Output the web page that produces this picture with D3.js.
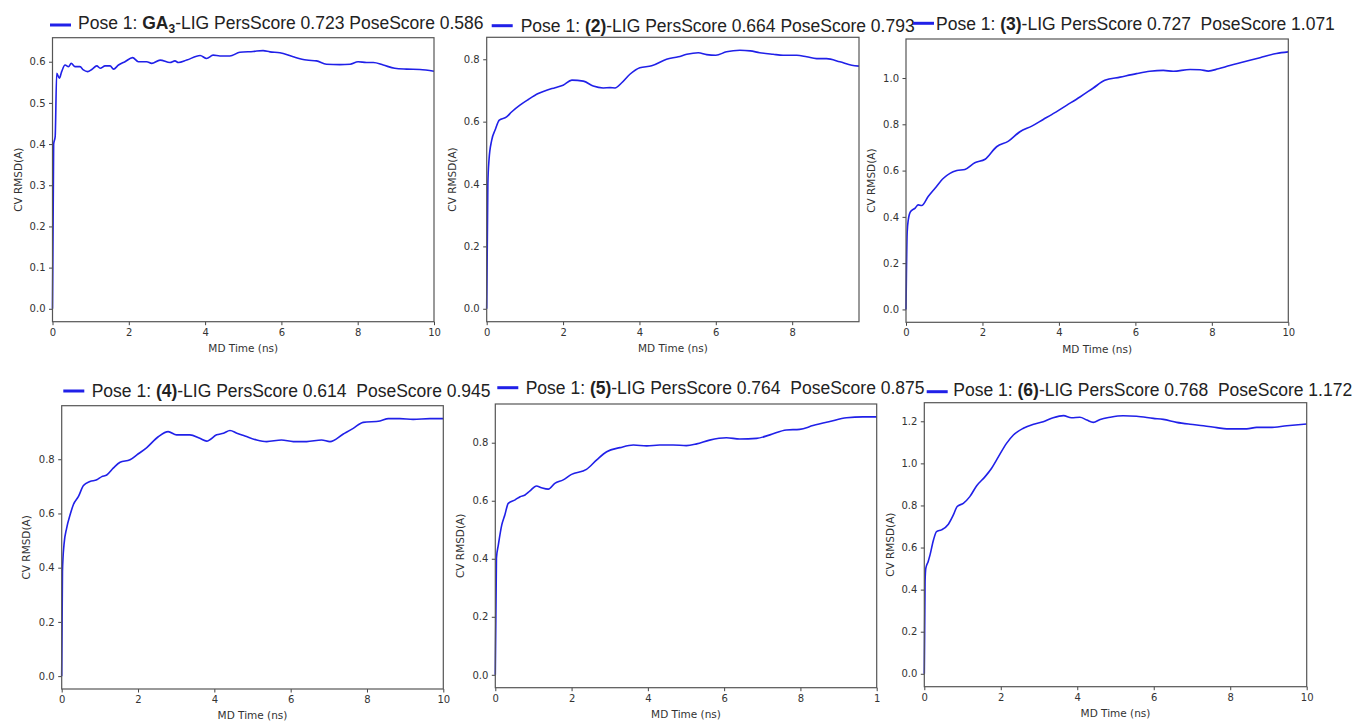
<!DOCTYPE html>
<html>
<head>
<meta charset="utf-8">
<script src="https://cdn.jsdelivr.net/npm/d3@7"></script>
<style>
  body { margin: 0; background: #fff; }
  svg { display: block; }
  .tick text { font-family: "DejaVu Sans", sans-serif; font-size: 10px; fill: #333; }
  .tick line { stroke: #444; }
</style>
</head>
<body>
<svg width="1354" height="721"></svg>
<script>
// ligand names and scores shown in the titles
var ligands = ["GA3", "(2)", "(3)", "(4)", "(5)", "(6)"];
var persScores = ["0.723", "0.664", "0.727", "0.614", "0.764", "0.768"];
var poseScores = ["0.586", "0.793", "1.071", "0.945", "0.875", "1.172"];
var xMax = [10, 9.75, 10, 10, 10, 10];

var yTicks = [
    [0, 0.1, 0.2, 0.3, 0.4, 0.5, 0.6],
    [0, 0.2, 0.4, 0.6, 0.8],
    [0, 0.2, 0.4, 0.6, 0.8, 1.0],
    [0, 0.2, 0.4, 0.6, 0.8],
    [0, 0.2, 0.4, 0.6, 0.8],
    [0, 0.2, 0.4, 0.6, 0.8, 1.0, 1.2]
];
var xTicks = [
    [0, 2, 4, 6, 8, 10],
    [0, 2, 4, 6, 8],
    [0, 2, 4, 6, 8, 10],
    [0, 2, 4, 6, 8, 10],
    [0, 2, 4, 6, 8, 10],
    [0, 2, 4, 6, 8, 10]
];
// last label of panel 5 is cut to "1" in the original picture
var xTickLabels = [
    ["0", "2", "4", "6", "8", "10"],
    ["0", "2", "4", "6", "8"],
    ["0", "2", "4", "6", "8", "10"],
    ["0", "2", "4", "6", "8", "10"],
    ["0", "2", "4", "6", "8", "1"],
    ["0", "2", "4", "6", "8", "10"]
];

// MD time (ns) and CV RMSD (A)
var time1 = [0, 0.03, 0.07, 0.11, 0.18, 0.24, 0.33, 0.42, 0.49, 0.59, 0.72, 0.81, 0.92, 1.03, 1.16, 1.25, 1.38, 1.51, 1.6, 1.73, 1.9, 2.1, 2.25, 2.47, 2.6, 2.82, 3.08, 3.21, 3.3, 3.52, 3.87, 4.04, 4.21, 4.39, 4.65, 4.91, 5.26, 5.52, 5.7, 5.96, 6.31, 6.66, 6.92, 7.18, 7.53, 7.8, 8.01, 8.23, 8.41, 8.67, 8.97, 9.28, 9.63, 10];
var rmsd1 = [0, 0.40, 0.418, 0.572, 0.56, 0.576, 0.592, 0.588, 0.596, 0.588, 0.588, 0.58, 0.576, 0.581, 0.59, 0.584, 0.59, 0.59, 0.582, 0.592, 0.6, 0.61, 0.6, 0.6, 0.596, 0.604, 0.598, 0.602, 0.598, 0.604, 0.615, 0.608, 0.616, 0.614, 0.614, 0.623, 0.625, 0.627, 0.624, 0.622, 0.612, 0.604, 0.602, 0.594, 0.593, 0.594, 0.6, 0.598, 0.598, 0.592, 0.584, 0.582, 0.581, 0.577];

var time2 = [0, 0.03, 0.06, 0.13, 0.22, 0.33, 0.52, 0.65, 0.87, 1.09, 1.35, 1.57, 1.79, 2.0, 2.23, 2.53, 2.79, 3.05, 3.23, 3.36, 3.53, 3.75, 4.01, 4.32, 4.71, 5.02, 5.24, 5.54, 5.76, 6.0, 6.28, 6.63, 6.9, 7.15, 7.5, 7.76, 8.12, 8.38, 8.64, 8.9, 9.25, 9.56, 9.75];
var rmsd2 = [0, 0.40, 0.477, 0.54, 0.573, 0.605, 0.615, 0.631, 0.653, 0.671, 0.69, 0.701, 0.709, 0.717, 0.733, 0.73, 0.714, 0.708, 0.709, 0.708, 0.724, 0.752, 0.773, 0.779, 0.8, 0.808, 0.816, 0.821, 0.815, 0.813, 0.824, 0.829, 0.827, 0.821, 0.816, 0.813, 0.813, 0.808, 0.802, 0.802, 0.792, 0.781, 0.778];

var time3 = [0, 0.03, 0.06, 0.12, 0.24, 0.32, 0.41, 0.58, 0.76, 0.98, 1.15, 1.33, 1.54, 1.8, 2.07, 2.37, 2.68, 2.98, 3.29, 3.59, 3.81, 4.2, 4.55, 4.9, 5.2, 5.6, 6.03, 6.38, 6.73, 6.99, 7.43, 7.69, 7.91, 8.17, 8.47, 8.82, 9.26, 9.69, 10];
var rmsd3 = [0, 0.33, 0.387, 0.423, 0.438, 0.452, 0.449, 0.488, 0.524, 0.567, 0.588, 0.6, 0.605, 0.634, 0.649, 0.703, 0.727, 0.768, 0.792, 0.821, 0.842, 0.882, 0.918, 0.957, 0.99, 1.004, 1.019, 1.029, 1.033, 1.029, 1.037, 1.036, 1.03, 1.04, 1.054, 1.069, 1.088, 1.106, 1.113];

var time4 = [0, 0.02, 0.06, 0.13, 0.22, 0.31, 0.44, 0.57, 0.74, 0.92, 1.05, 1.18, 1.35, 1.53, 1.79, 1.97, 2.23, 2.53, 2.79, 3.01, 3.36, 3.62, 3.8, 4.06, 4.24, 4.41, 4.59, 4.8, 5.11, 5.37, 5.76, 6.07, 6.42, 6.81, 7.03, 7.38, 7.64, 7.9, 8.34, 8.56, 8.86, 9.21, 9.65, 10];
var rmsd4 = [0, 0.386, 0.485, 0.546, 0.595, 0.634, 0.663, 0.703, 0.718, 0.724, 0.736, 0.742, 0.767, 0.789, 0.798, 0.816, 0.843, 0.883, 0.902, 0.89, 0.89, 0.877, 0.867, 0.89, 0.896, 0.906, 0.896, 0.886, 0.871, 0.865, 0.871, 0.865, 0.865, 0.871, 0.865, 0.893, 0.914, 0.936, 0.941, 0.95, 0.95, 0.947, 0.95, 0.95];

var time5 = [0, 0.03, 0.08, 0.17, 0.25, 0.34, 0.52, 0.65, 0.78, 0.91, 1.08, 1.21, 1.39, 1.56, 1.78, 2.0, 2.39, 2.66, 2.92, 3.27, 3.62, 3.97, 4.31, 4.66, 5.01, 5.28, 5.62, 6.06, 6.41, 6.85, 7.2, 7.63, 7.98, 8.33, 8.77, 9.21, 9.64, 10];
var rmsd5 = [0, 0.402, 0.448, 0.517, 0.551, 0.591, 0.603, 0.614, 0.62, 0.634, 0.651, 0.645, 0.64, 0.66, 0.672, 0.691, 0.708, 0.741, 0.769, 0.783, 0.792, 0.789, 0.792, 0.792, 0.79, 0.796, 0.809, 0.817, 0.813, 0.815, 0.827, 0.844, 0.846, 0.859, 0.873, 0.886, 0.889, 0.889];

var time6 = [0, 0.02, 0.04, 0.1, 0.15, 0.24, 0.32, 0.45, 0.63, 0.76, 0.86, 1.02, 1.19, 1.37, 1.59, 1.76, 1.94, 2.15, 2.33, 2.59, 2.86, 3.11, 3.37, 3.64, 3.85, 4.07, 4.25, 4.42, 4.6, 4.86, 5.2, 5.55, 5.99, 6.25, 6.6, 6.95, 7.3, 7.65, 7.91, 8.17, 8.43, 8.69, 9.04, 9.48, 10];
var rmsd6 = [0, 0.438, 0.502, 0.533, 0.565, 0.636, 0.676, 0.684, 0.711, 0.755, 0.795, 0.81, 0.842, 0.894, 0.937, 0.977, 1.032, 1.095, 1.135, 1.167, 1.186, 1.198, 1.217, 1.227, 1.217, 1.219, 1.206, 1.195, 1.209, 1.219, 1.226, 1.224, 1.214, 1.209, 1.195, 1.186, 1.179, 1.17, 1.164, 1.164, 1.164, 1.171, 1.171, 1.179, 1.187];

var times = [time1, time2, time3, time4, time5, time6];
var rmsds = [rmsd1, rmsd2, rmsd3, rmsd4, rmsd5, rmsd6];

// panel boxes as they sit in the composite figure
var boxes = [
    {l: 52.5, r: 434, t: 37.7, b: 321.7, lx: 50, ly: 25, tx: 78, ty: 29, yl: 18.3, xl: 352},
    {l: 486.7, r: 859, t: 37.3, b: 321.7, lx: 491.7, ly: 25.7, tx: 520.7, ty: 31.5, yl: 452.3, xl: 352},
    {l: 906, r: 1288.3, t: 39, b: 322.3, lx: 913, ly: 23.3, tx: 936, ty: 29.5, yl: 871.7, xl: 353},
    {l: 61.7, r: 443.3, t: 405.7, b: 689, lx: 63.3, ly: 391, tx: 91.7, ty: 397, yl: 26.7, xl: 719},
    {l: 495.3, r: 876.7, t: 404, b: 687.7, lx: 497.3, ly: 387.7, tx: 525.7, ty: 394, yl: 460.7, xl: 718},
    {l: 924.3, r: 1306.7, t: 402.7, b: 686.7, lx: 926.7, ly: 391.7, tx: 953.3, ty: 396, yl: 890, xl: 717}
];

var blue = "#2020e8";
var svg = d3.select("svg");

boxes.forEach(function(bx, i) {
    var data = times[i].map(function(t, j) { return {t: t, v: rmsds[i][j]}; });
    var ext = d3.extent(rmsds[i]);
    var pad = (ext[1] - ext[0]) * 0.05;

    var x = d3.scaleLinear().domain([0, xMax[i]]).range([bx.l, bx.r]);
    var y = d3.scaleLinear().domain([ext[0] - pad, ext[1] + pad]).range([bx.b, bx.t]);

    var g = svg.append("g");

    g.append("g")
        .attr("transform", "translate(" + bx.l + ",0)")
        .call(d3.axisLeft(y).tickValues(yTicks[i]).tickFormat(d3.format(".1f"))
            .tickSize(3.5).tickPadding(3.5))
        .call(function(a) { a.select(".domain").remove(); })
        .selectAll("text").attr("font-family", null).attr("font-size", null);

    g.append("g")
        .attr("transform", "translate(0," + bx.b + ")")
        .call(d3.axisBottom(x).tickValues(xTicks[i])
            .tickFormat(function(d, k) { return xTickLabels[i][k]; })
            .tickSize(3.5).tickPadding(3.5))
        .call(function(a) { a.select(".domain").remove(); })
        .selectAll("text").attr("font-family", null).attr("font-size", null);

    g.selectAll(".tick line").attr("stroke", "#444");

    var line = d3.line()
        .x(function(d) { return x(d.t); })
        .y(function(d) { return y(d.v); })
        .curve(d3.curveMonotoneX);

    g.append("path")
        .datum(data)
        .attr("d", line)
        .attr("fill", "none")
        .attr("stroke", blue)
        .attr("stroke-width", 1.6);

    g.append("rect")
        .attr("x", bx.l).attr("y", bx.t)
        .attr("width", bx.r - bx.l).attr("height", bx.b - bx.t)
        .attr("fill", "none")
        .attr("stroke", "#555")
        .attr("stroke-width", 1.2);

    // axis labels
    g.append("text")
        .attr("transform", "translate(" + bx.yl + "," + ((bx.t + bx.b) / 2) + ") rotate(-90)")
        .attr("text-anchor", "middle")
        .attr("dy", "0.35em")
        .attr("font-family", "DejaVu Sans, sans-serif")
        .attr("font-size", 10.5)
        .attr("fill", "#333")
        .text("CV RMSD(A)");

    g.append("text")
        .attr("x", (bx.l + bx.r) / 2)
        .attr("y", bx.xl)
        .attr("text-anchor", "middle")
        .attr("font-family", "DejaVu Sans, sans-serif")
        .attr("font-size", 10.5)
        .attr("fill", "#333")
        .text("MD Time (ns)");

    // legend-style title
    g.append("line")
        .attr("x1", bx.lx).attr("x2", bx.lx + 21)
        .attr("y1", bx.ly).attr("y2", bx.ly)
        .attr("stroke", blue)
        .attr("stroke-width", 3);

    var title = g.append("text")
        .attr("x", bx.tx).attr("y", bx.ty)
        .attr("font-family", "Liberation Sans, Arial, sans-serif")
        .attr("font-size", 17.5)
        .attr("fill", "#222")
        .style("white-space", "pre");

    title.append("tspan").text("Pose 1: ");
    var gap = i < 2 ? " " : "  ";
    var rest = "-LIG PersScore " + persScores[i] + gap + "PoseScore " + poseScores[i];
    if (ligands[i] === "GA3") {
        title.append("tspan").attr("font-weight", "bold").text("GA");
        title.append("tspan").attr("font-weight", "bold").attr("font-size", 12).attr("dy", 4).text("3");
        title.append("tspan").attr("dy", -4).text(rest);
    } else {
        title.append("tspan").attr("font-weight", "bold").text(ligands[i]);
        title.append("tspan").text(rest);
    }
});
</script>
</body>
</html>
